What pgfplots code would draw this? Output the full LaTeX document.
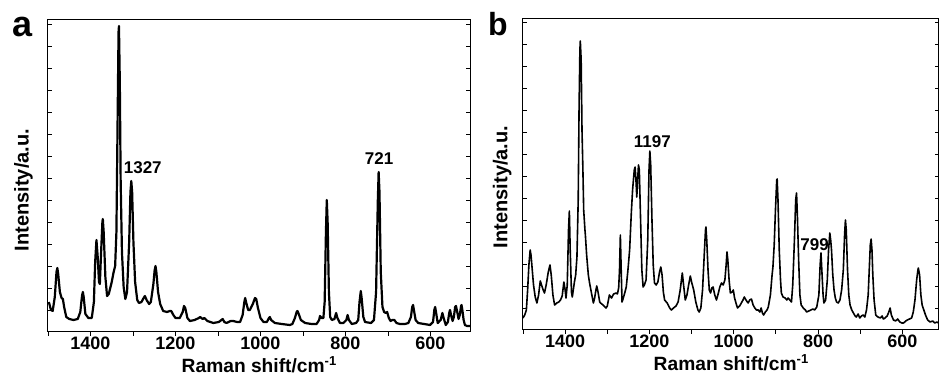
\documentclass[border=0pt]{standalone}
\usepackage{fontspec}
\setmainfont{Liberation Sans}
\usepackage{pgfplots}
\pgfplotsset{compat=1.18}
\begin{document}
\begin{tikzpicture}
\useasboundingbox (0,0) rectangle (469.5pt,192.5pt);
\pgfplotsset{
  spec/.style={
    scale only axis,
    x dir=reverse,
    axis line style={line width=0.5pt},
    xtick={600,800,1000,1200,1400},
    minor xtick={500,700,900,1100,1300,1500},
    xtick pos=bottom,
    ytick pos=both,
    ytick={22,44,...,300},
    yticklabels={},
    tick style={line width=0.4pt, black},
    major tick length=2pt, minor tick length=2pt,
    xtick align=outside,
    ytick align=inside,
    /pgf/number format/assume math mode=true,
    /pgf/number format/1000 sep={},
    xticklabel style={font=\fontsize{9}{10}\selectfont\bfseries, inner sep=0.5pt},
    xlabel={Raman shift/cm\raisebox{0.7ex}{\fontsize{6.5}{7}\selectfont -1}},
    xlabel style={font=\fontsize{9.6}{11}\selectfont\bfseries, inner sep=0.5pt,
      at={(axis description cs:0.5,0)}, anchor=base, yshift=-20.5pt},
    ylabel={Intensity/a.u.},
    ylabel style={font=\fontsize{10}{11}\selectfont\bfseries},
    clip=true,
  }
}
% ---------------- panel a ----------------
\begin{axis}[spec,
  at={(24pt,26.5pt)}, anchor=south west,
  width=211pt, height=156pt,
  xmin=507, xmax=1500, ymin=0, ymax=312,
  ylabel style={at={(axis description cs:-0.058,0.455)}, anchor=center},
]
\addplot[black, line width=1.1pt, line join=round] coordinates {
(1498,30)(1493,22)(1489,21)(1484,35)(1480,60)(1478,64)(1476,58)(1472,40)(1468,34)(1465,33)
(1462,25)(1457,15)(1450,13)(1440,12)(1430,13)(1424,20)(1420,36)(1418,40)(1416,35)(1412,18)
(1405,14)(1397,14)(1392,30)(1389,70)(1386,92)(1383,75)(1380,50)(1378,48)(1375,80)(1372,110)
(1371,113)(1369,100)(1365,55)(1361,36)(1357,38)(1350,50)(1346,59)(1342,66)(1339,100)(1336,220)
(1334,300)(1333,306)(1331,250)(1329,150)(1326,80)(1322,45)(1318,33)(1314,40)(1309,90)(1306,140)
(1304,151)(1302,140)(1299,90)(1295,50)(1290,32)(1286,29)(1280,30)(1275,34)(1272,36)(1268,32)
(1262,28)(1258,30)(1252,48)(1249,62)(1247,66)(1245,60)(1241,40)(1236,28)(1229,21)(1220,20)
(1213,21)(1210,21)(1205,17)(1200,14)(1190,14)(1183,20)(1180,26)(1177,24)(1172,14)(1166,11)
(1155,12)(1145,14)(1142,15)(1136,13)(1132,14)(1125,11)(1111,9)(1098,10)(1089,13)(1085,10)
(1080,9)(1070,11)(1064,11)(1055,10)(1048,10)(1042,17)(1038,30)(1036,34)(1034,30)(1029,22)
(1025,22)(1018,28)(1013,34)(1010,33)(1006,24)(1000,14)(993,10)(985,10)(980,14)(978,15)
(975,12)(966,9)(950,8)(931,7)(925,8)(919,14)(915,20)(913,21)(910,18)(905,12)
(895,9)(880,8)(868,8)(862,12)(860,16)(856,14)(852,14)(849,30)(846,100)(844,132)
(842,110)(839,40)(836,15)(832,12)(826,13)(822,19)(819,14)(813,9)(805,9)(798,12)
(795,17)(792,12)(785,8)(775,9)(770,12)(767,30)(764,41)(762,34)(758,15)(754,10)
(740,9)(733,12)(728,40)(724,130)(722,160)(720,140)(717,60)(713,25)(709,20)(705,19)
(702,20)(698,14)(694,11)(690,12)(685,12)(680,9)(672,8)(660,8)(652,9)(646,15)
(643,25)(641,27)(639,22)(635,12)(629,9)(615,8)(601,7)(594,10)(591,22)(589,25)
(587,20)(583,9)(576,12)(572,19)(569,14)(564,7)(559,10)(556,19)(554,22)(551,16)
(548,11)(545,15)(542,25)(540,26)(537,20)(534,13)(531,17)(528,26)(527,27)(525,22)
(522,12)(519,7)(514,6)(509,6)(507,6)
};
\node[font=\fontsize{8.5}{10}\selectfont\bfseries] at (axis cs:1277,164) {1327};
\node[font=\fontsize{8.5}{10}\selectfont\bfseries] at (axis cs:721,173) {721};
\end{axis}
% ---------------- panel b ----------------
\begin{axis}[spec,
  at={(261.5pt,27.5pt)}, anchor=south west,
  width=208pt, height=155.5pt,
  xmin=513, xmax=1500, ymin=0, ymax=311,
  ylabel style={at={(axis description cs:-0.05,0.46)}, anchor=center},
]
\addplot[black, line width=0.8pt, line join=round] coordinates {
(1500,12)(1496,15)(1492,20)(1489,40)(1486,65)(1483,80)(1481,75)(1478,60)(1475,45)(1471,33)
(1467,27)(1463,35)(1459,49)(1456,45)(1452,40)(1449,37)(1445,45)(1440,58)(1436,65)(1433,55)
(1429,35)(1425,25)(1420,27)(1415,28)(1411,30)(1407,34)(1403,48)(1400,40)(1398,32)(1395,45)
(1392,100)(1390,119)(1388,80)(1385,38)(1383,33)(1380,42)(1378,48)(1375,55)(1372,73)(1369,130)
(1367,220)(1365,280)(1364,289)(1362,270)(1360,200)(1358,163)(1356,120)(1353,100)(1352,95)(1349,75)
(1345,55)(1342,47)(1338,38)(1333,27)(1330,32)(1327,40)(1325,44)(1322,38)(1318,28)(1316,27)
(1310,25)(1303,22)(1300,24)(1295,35)(1290,32)(1285,36)(1279,37)(1276,36)(1273,42)(1271,60)
(1269,95)(1267,60)(1265,28)(1262,32)(1258,38)(1255,43)(1251,60)(1247,80)(1243,117)(1240,140)
(1236,160)(1234,163)(1232,150)(1230,133)(1228,150)(1226,165)(1224,160)(1221,110)(1218,60)(1215,43)
(1212,45)(1208,50)(1204,90)(1201,160)(1199,179)(1197,165)(1194,110)(1191,65)(1188,47)(1184,45)
(1180,48)(1176,58)(1173,63)(1170,55)(1167,38)(1164,30)(1158,27)(1152,22)(1148,20)(1143,22)
(1137,24)(1132,28)(1127,40)(1122,57)(1119,45)(1115,30)(1111,35)(1107,45)(1103,54)(1100,48)
(1095,40)(1090,28)(1085,20)(1082,18)(1078,22)(1074,40)(1070,75)(1067,100)(1066,103)(1064,90)
(1061,60)(1058,40)(1055,37)(1052,42)(1049,43)(1045,35)(1041,30)(1037,36)(1033,43)(1029,47)
(1025,45)(1021,50)(1018,65)(1016,78)(1014,70)(1011,50)(1008,37)(1004,38)(1001,40)(998,32)
(994,26)(991,22)(986,24)(982,27)(978,30)(975,33)(971,30)(966,27)(962,30)(958,31)
(954,25)(950,22)(946,20)(942,20)(938,18)(935,22)(932,17)(929,15)(925,18)(921,20)
(918,23)(913,35)(909,55)(907,63)(904,85)(901,120)(898,150)(897,151)(895,130)(892,80)
(889,50)(887,37)(883,33)(878,32)(874,30)(871,32)(867,30)(863,28)(860,45)(856,90)
(853,130)(851,137)(849,115)(846,70)(843,35)(840,25)(835,22)(830,20)(827,18)(822,19)
(817,20)(812,21)(808,20)(803,23)(798,35)(795,65)(793,77)(791,60)(788,35)(786,27)
(782,30)(778,50)(775,80)(772,97)(770,90)(768,80)(765,55)(762,40)(759,32)(756,28)
(752,27)(748,30)(744,40)(740,60)(737,95)(735,110)(733,100)(730,60)(727,35)(724,25)
(720,20)(716,17)(712,14)(709,13)(705,16)(701,12)(697,14)(693,15)(689,13)(685,20)
(681,35)(678,65)(676,85)(674,91)(672,80)(670,55)(667,30)(663,15)(658,13)(652,12)
(648,14)(645,11)(641,12)(636,14)(632,18)(629,22)(626,15)(621,10)(616,9)(611,11)
(606,8)(601,7)(597,7)(592,9)(588,10)(583,11)(578,12)(574,18)(570,30)(566,50)
(563,60)(562,62)(559,55)(556,35)(553,25)(549,20)(545,15)(540,10)(534,8)(528,9)
(523,7)(518,8)(514,7)(513,7)
};
\node[font=\fontsize{8.5}{10}\selectfont\bfseries] at (axis cs:1193,188) {1197};
\node[font=\fontsize{8.5}{10}\selectfont\bfseries] at (axis cs:808,85) {799};
\end{axis}
% panel letters
\node[font=\fontsize{18}{20}\selectfont\bfseries, anchor=base] at (11.5pt,174pt) {a};
\node[font=\fontsize{16}{18}\selectfont\bfseries, anchor=base] at (249pt,174.5pt) {b};
\end{tikzpicture}
\end{document}
